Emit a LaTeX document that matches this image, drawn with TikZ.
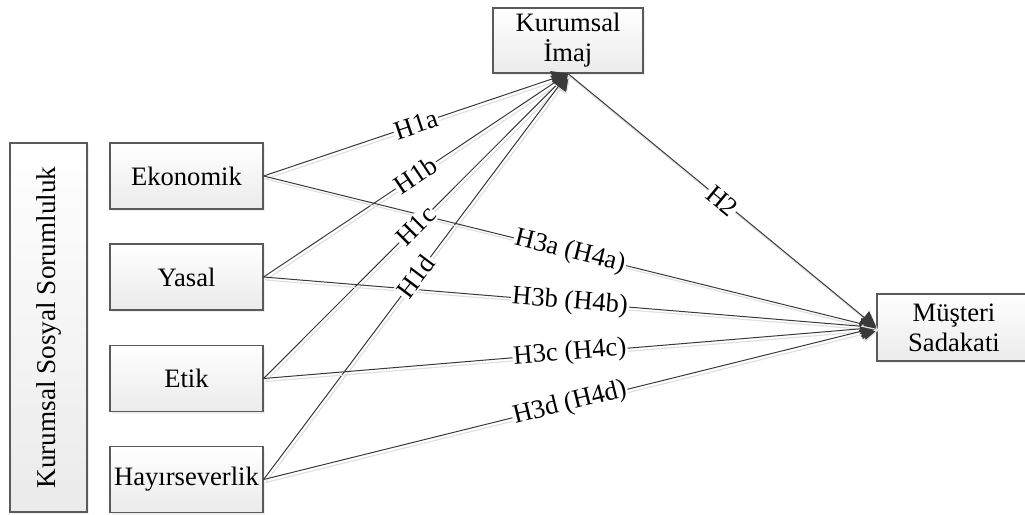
\documentclass[tikz,border=0pt]{standalone}
\usepackage{fontspec}
\setmainfont{Liberation Serif}
\usetikzlibrary{arrows.meta,shadows}
\definecolor{lnc}{HTML}{3A3A3A}
\definecolor{bdc}{HTML}{5A5A5A}
\tikzset{
  box/.style={draw=bdc, line width=0.6pt, top color=white, bottom color=black!8,
    drop shadow={shadow xshift=1.2pt, shadow yshift=-1.2pt, fill=black!12},
    minimum width=76.5pt, minimum height=33pt, align=center, inner sep=1pt,
    font=\fontsize{13.3}{15}\selectfont},
  conn/.style={draw=lnc, line width=0.5pt,
    -{Triangle[length=8pt,width=8pt,fill=lnc]},
    preaction={draw=black!12, line width=0.6pt, transform canvas={shift={(1pt,-1.5pt)}}}},
  lbl/.style={fill=white, inner sep=0.6pt, sloped, midway,
    font=\fontsize{13.3}{15}\selectfont}
}
\begin{document}
\begin{tikzpicture}[x=0.5pt,y=-0.5pt]
\useasboundingbox (0,0) rectangle (1025,515);
% nodes
\node[box, minimum width=38.5pt, minimum height=184.5pt] (kss) at (48.5,327.5) {};
\node[rotate=90, font=\fontsize{13.6}{15}\selectfont] (ksst) at (kss.center) {Kurumsal Sosyal Sorumluluk};
\node[box] (eko) at (186.5,176) {Ekonomik};
\node[box] (yas) at (186.5,277) {Yasal};
\node[box] (etk) at (186.5,378.5) {Etik};
\node[box] (hay) at (186.5,479.5) {Hayırseverlik};
\node[box, minimum width=75pt, minimum height=32.5pt] (imaj) at (568,40.5) {Kurumsal\\İmaj};
\node[box, minimum width=77pt, minimum height=33.5pt] (mus) at (954,327.5) {Müşteri\\Sadakati};
% connectors
\draw[conn] (eko.east) -- (imaj.south);
\draw[conn] (yas.east) -- (imaj.south);
\draw[conn] (etk.east) -- (imaj.south);
\draw[conn] (hay.east) -- (imaj.south);
\draw[conn] (eko.east) -- (mus.west);
\draw[conn] (yas.east) -- (mus.west);
\draw[conn] (etk.east) -- (mus.west);
\draw[conn] (hay.east) -- (mus.west);
\draw[conn] (imaj.south) -- (mus.west);
% labels on top
\path (eko.east) -- (imaj.south) node[lbl] (l1a) {H1a};
\path (yas.east) -- (imaj.south) node[lbl] (l1b) {H1b};
\path (etk.east) -- (imaj.south) node[lbl] (l1c) {H1c};
\path (hay.east) -- (imaj.south) node[lbl] (l1d) {H1d};
\path (eko.east) -- (mus.west) node[lbl] (l3a) {H3a (H4a)};
\path (yas.east) -- (mus.west) node[lbl] (l3b) {H3b (H4b)};
\path (etk.east) -- (mus.west) node[lbl] (l3c) {H3c (H4c)};
\path (hay.east) -- (mus.west) node[lbl] (l3d) {H3d (H4d)};
\path (imaj.south) -- (mus.west) node[lbl] (l2) {H2};
\end{tikzpicture}
\end{document}
